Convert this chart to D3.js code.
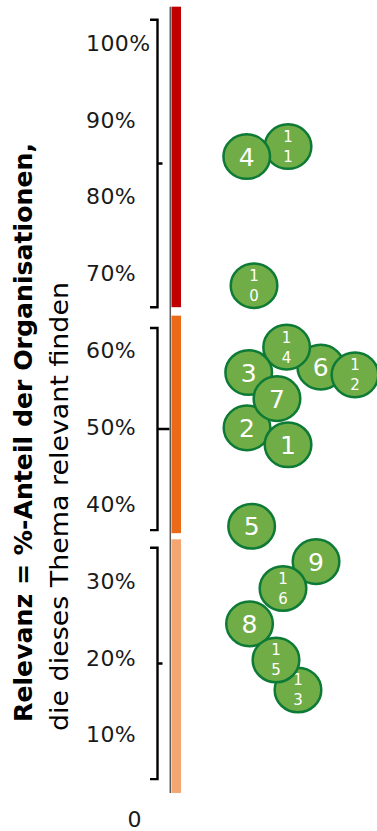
<!DOCTYPE html>
<html>
<head>
<meta charset="utf-8">
<script src="https://cdn.jsdelivr.net/npm/d3@7"></script>
<style>
  html, body { margin: 0; padding: 0; background: #fff; }
  svg { display: block; }
</style>
</head>
<body>
<svg id="chart" width="377" height="831"></svg>
<script>
// Topics (drawn in this order so later bubbles sit on top)
const topics    = ["11", "4", "10", "6", "14", "12", "3", "2", "7", "1", "5", "9", "16", "8", "13", "15"];
// Relevance: share of organisations (%) that find the topic relevant
const relevance = [86.5, 85.2, 68.4, 57.8, 60.4, 56.8, 57.1, 49.9, 53.7, 47.7, 37.1, 32.5, 29.0, 24.4, 15.8, 19.7];
// Horizontal spread of the bubbles (0–10), only to keep them apart
const spread    = [4.86, 1.91, 2.43, 7.2, 4.76, 9.64, 2.05, 1.93, 4.07, 4.86, 2.26, 6.86, 4.5, 2.11, 5.57, 4.0];

// Colour bands of the relevance scale (low / medium / high)
const bandLow    = [2.4, 36.2, 65.6];
const bandHigh   = [35.4, 64.5, 104.7];
const bandColors = ["#f4a672", "#eb6a18", "#c00000"];

// Braces grouping the three relevance levels
const braceLow  = [4.2, 36.6, 65.6];
const braceHigh = [34.3, 62.9, 103.0];

// Axis tick labels
const tickValues = [10, 20, 30, 40, 50, 60, 70, 80, 90, 100];
const tickLabels = ["10%", "20%", "30%", "40%", "50%", "60%", "70%", "80%", "90%", "100%"];
const zeroLabel = "0";

const titleBold = "Relevanz = %-Anteil der Organisationen,";
const titleRegular = "die dieses Thema relevant finden";

const svg = d3.select("#chart");
const font = "'DejaVu Sans', Verdana, sans-serif";

const y = d3.scaleLinear().domain([0, 100]).range([811.4, 42.8]);
const x = d3.scaleLinear().domain([0, 10]).range([220, 360]);

// Title (rotated, two lines)
const title = svg.append("g").attr("font-family", font).attr("fill", "#000");
title.append("text")
  .attr("transform", `translate(32,722) rotate(-90)`)
  .attr("font-size", 24).attr("font-weight", "bold")
  .attr("textLength", 579).attr("lengthAdjust", "spacingAndGlyphs")
  .text(titleBold);
title.append("text")
  .attr("transform", `translate(68,731) rotate(-90)`)
  .attr("font-size", 25)
  .attr("textLength", 449).attr("lengthAdjust", "spacingAndGlyphs")
  .text(titleRegular);

// Tick labels
const ticks = svg.append("g").attr("font-family", font).attr("font-size", 22).attr("fill", "#1a1a1a");
ticks.selectAll("text.tick")
  .data(tickValues)
  .join("text")
  .attr("class", "tick")
  .attr("x", 86)
  .attr("y", d => y(d))
  .attr("dy", "0.36em")
  .attr("letter-spacing", 0.4)
  .text((d, i) => tickLabels[i]);
ticks.append("text")
  .attr("x", 134.5)
  .attr("y", y(0) + 8)
  .attr("dy", "0.36em")
  .attr("text-anchor", "middle")
  .text(zeroLabel);

// Braces
const braceReach = [5, 12, 5];
const braces = svg.append("g").attr("fill", "none").attr("stroke", "#000").attr("stroke-width", 2.4);
braces.selectAll("path")
  .data(braceLow.map((lo, i) => ({ lo, hi: braceHigh[i], reach: braceReach[i] })))
  .join("path")
  .attr("d", d => {
    const xl = 150, xv = 157.5;
    const top = y(d.hi), bot = y(d.lo), mid = (top + bot) / 2;
    return `M${xl},${top}H${xv}V${bot}H${xl}M${xv},${mid}H${xv + d.reach}`;
  });

// Colour bands
svg.append("g").selectAll("rect")
  .data(bandLow.map((lo, i) => ({ lo, hi: bandHigh[i], color: bandColors[i] })))
  .join("rect")
  .attr("x", 171.5)
  .attr("width", 9.5)
  .attr("y", d => y(d.hi))
  .attr("height", d => y(d.lo) - y(d.hi))
  .attr("fill", d => d.color);

// Vertical axis line
svg.append("line")
  .attr("x1", 170.3).attr("x2", 170.3)
  .attr("y1", y(d3.max(bandHigh))).attr("y2", y(d3.min(bandLow)))
  .attr("stroke", "#595959").attr("stroke-width", 1.5);

// Topic bubbles
const data = topics.map((t, i) => ({ t, v: relevance[i], s: spread[i] }));
const bubbles = svg.append("g").selectAll("g")
  .data(data)
  .join("g")
  .attr("transform", d => `translate(${x(d.s)},${y(d.v)})`);

bubbles.append("ellipse")
  .attr("rx", 23.3).attr("ry", 22.3)
  .attr("fill", "#70ad47")
  .attr("stroke", "#0d7a36")
  .attr("stroke-width", 2.5);

bubbles.each(function (d) {
  const g = d3.select(this);
  const txt = g.append("text")
    .attr("font-family", font)
    .attr("fill", "#fff")
    .attr("text-anchor", "middle");
  if (d.t.length === 1) {
    txt.attr("font-size", 25).attr("dy", "0.36em").text(d.t);
  } else {
    txt.attr("font-size", 15);
    txt.append("tspan").attr("x", 0).attr("y", -10).attr("dy", "0.36em").text(d.t[0]);
    txt.append("tspan").attr("x", 0).attr("y", 10).attr("dy", "0.36em").text(d.t[1]);
  }
});
</script>
</body>
</html>
